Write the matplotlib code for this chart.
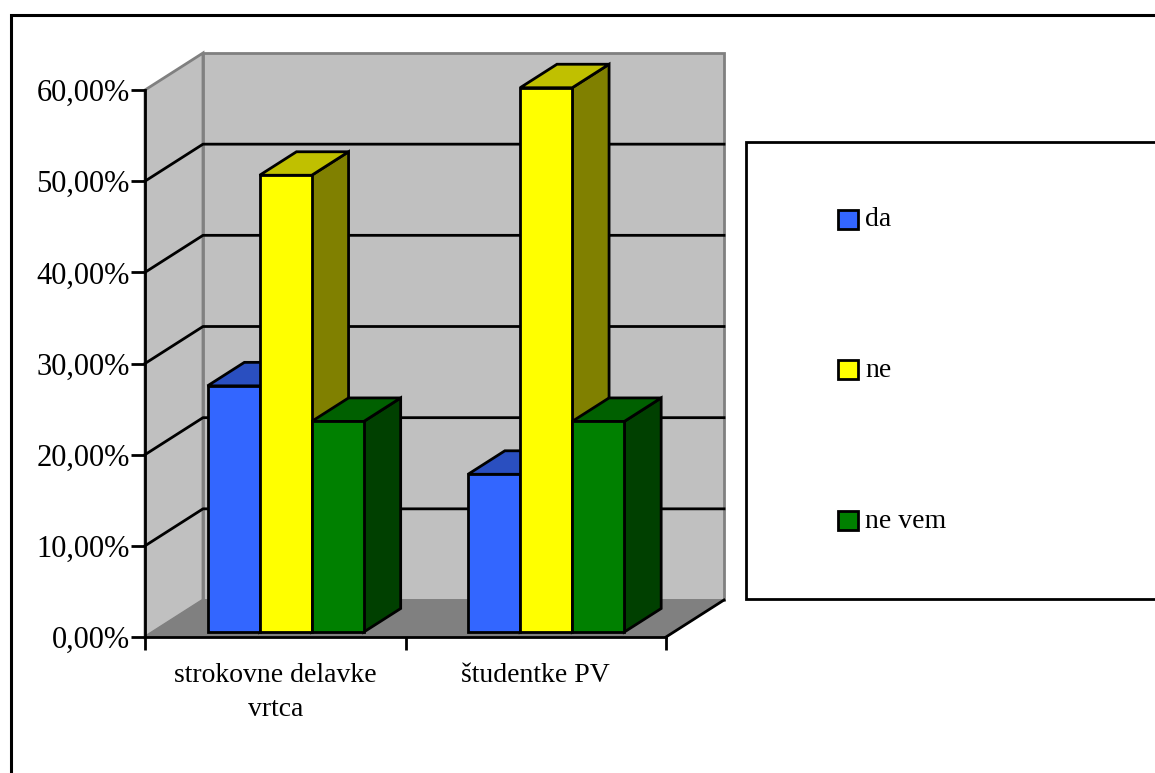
import matplotlib
matplotlib.use("Agg")
import matplotlib.pyplot as plt
from matplotlib.patches import Polygon, Rectangle

categories = ["strokovne delavke\nvrtca", "študentke PV"]
series_names = ["da", "ne", "ne vem"]
da_values = [27.0, 17.3]
ne_values = [50.1, 59.7]
ne_vem_values = [23.1, 23.1]
y_ticks = [0, 10, 20, 30, 40, 50, 60]

front_colors = ["#3366ff", "#ffff00", "#008000"]
top_colors = ["#2a4fc0", "#c0c000", "#006000"]
side_colors = ["#1f3a90", "#808000", "#004000"]

W, H = 1155, 773
FONT = "Liberation Serif"

# one unit of depth moves a point this far in data coords (oblique projection)
DX = 58 / 260.5
DY = 37 / 9.117
BAR_W = 0.2
BAR_D0, BAR_D1 = 0.135, 0.77


def proj(x, y, d):
    return (x + d * DX, y + d * DY)


def face(ax, pts, color, edge="black", lw=2.0, z=2):
    ax.add_patch(Polygon(pts, closed=True, facecolor=color, edgecolor=edge, linewidth=lw,
                         joinstyle="miter", clip_on=False, zorder=z))


fig = plt.figure(figsize=(W / 100, H / 100), dpi=100)
ax = fig.add_axes([145 / W, (H - 637) / H, 521 / W, 547 / H])
ax.set_xlim(0, 2)
ax.set_ylim(0, 60)
ax.patch.set_visible(False)

# walls and floor
face(ax, [proj(0, 0, 0), proj(0, 60, 0), proj(0, 60, 1), proj(0, 0, 1)], "#c0c0c0", "#808080", 2.0, 1)
face(ax, [proj(0, 0, 1), proj(0, 60, 1), proj(2, 60, 1), proj(2, 0, 1)], "#c0c0c0", "#808080", 2.0, 1)
face(ax, [proj(0, 0, 0), proj(0, 0, 1), proj(2, 0, 1), proj(2, 0, 0)], "#808080", "#808080", 1.0, 1)

# gridlines run along the left wall and then across the back wall
for v in y_ticks[1:-1]:
    xs, ys = zip(proj(0, v, 0), proj(0, v, 1), proj(2, v, 1))
    ax.plot(xs, ys, color="black", lw=2.0, clip_on=False, zorder=1.5)
# front right edge of the floor
xs, ys = zip(proj(2, 0, 0), proj(2, 0, 1))
ax.plot(xs, ys, color="black", lw=2.0, clip_on=False, zorder=1.5)

# bars, left to right so that later faces cover the earlier ones
all_values = [da_values, ne_values, ne_vem_values]
for g in range(len(categories)):
    for s, values in enumerate(all_values):
        x0 = g + 0.21 + s * BAR_W
        x1 = x0 + BAR_W
        v = values[g]
        face(ax, [proj(x1, 0, BAR_D0), proj(x1, v, BAR_D0), proj(x1, v, BAR_D1), proj(x1, 0, BAR_D1)],
             side_colors[s])
        face(ax, [proj(x0, v, BAR_D0), proj(x0, v, BAR_D1), proj(x1, v, BAR_D1), proj(x1, v, BAR_D0)],
             top_colors[s])
        face(ax, [proj(x0, 0, BAR_D0), proj(x0, v, BAR_D0), proj(x1, v, BAR_D0), proj(x1, 0, BAR_D0)],
             front_colors[s])

# axes
for name in ["top", "right"]:
    ax.spines[name].set_visible(False)
for name in ["left", "bottom"]:
    ax.spines[name].set_linewidth(2.0)
    ax.spines[name].set_zorder(3)
ax.set_yticks(y_ticks)
ax.set_yticklabels([f"{v},00%" for v in y_ticks], fontsize=22, family=FONT)
ax.set_xticks([0, 1, 2])
ax.set_xticklabels([])
ax.set_xticks([0.5, 1.5], minor=True)
ax.set_xticklabels(categories, minor=True, fontsize=20, family=FONT, linespacing=1.45)
ax.tick_params(axis="y", length=10, width=2, pad=1)
ax.tick_params(axis="x", which="major", length=9, width=2)
ax.tick_params(axis="x", which="minor", length=0, pad=19)

# outer frame and legend box run off the right edge of the picture
fig.add_artist(Rectangle((11 / W, -0.1), 1.2, (H - 15) / H + 0.1, transform=fig.transFigure,
                         facecolor="none", edgecolor="black", linewidth=2.2, zorder=0))
fig.add_artist(Rectangle((746 / W, (H - 599) / H), 0.5, 457 / H, transform=fig.transFigure,
                         facecolor="white", edgecolor="black", linewidth=2.0))

legend_y = [220, 370, 521]
for name, color, py in zip(series_names, front_colors, legend_y):
    fig.add_artist(Rectangle((838 / W, (H - py - 9) / H), 20 / W, 19 / H, transform=fig.transFigure,
                             facecolor=color, edgecolor="black", linewidth=2.0))
    fig.text(865 / W, (H - py) / H, name, fontsize=20, family=FONT, va="center", ha="left")

fig.savefig("out.png", dpi=100)
